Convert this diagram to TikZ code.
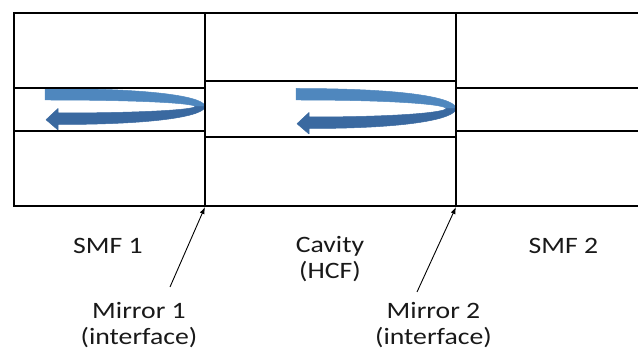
\documentclass[tikz,border=0pt]{standalone}
\usepackage{fontspec}
\setmainfont{Carlito}
\usetikzlibrary{arrows.meta}
\begin{document}
\begin{tikzpicture}[x=1pt,y=-1pt,
  fibre/.style={line width=1.5pt,black},
  lbl/.style={font=\fontsize{23.5}{26}\selectfont,align=center,inner sep=0pt,xscale=1.18,text=black!90},
  pointer/.style={line width=0.9pt,-{Latex[length=7pt,width=5pt]}},
  beamfill/.style={fill=#1,draw=#1,line width=0.5pt,line join=round},
]
\definecolor{beamlight}{RGB}{79,135,190}
\definecolor{beamdark}{RGB}{58,105,160}
\useasboundingbox (0,0) rectangle (638,352);

% reflected beam: upper light band, lower dark band ending in an arrowhead
% #1 left x, #2 centre y, #3 outer half-height, #4 inner half-height
\newcommand\beamturn[4]{%
  \path[beamfill=beamlight] ({#1},{#2-#3})
     .. controls ({#1+118},{#2-#3}) and ({#1+160},{#2-0.48*#3}) .. ({#1+160},{#2})
     -- ({#1+150},{#2})
     .. controls ({#1+150},{#2-0.42*#4}) and ({#1+105},{#2-#4}) .. ({#1},{#2-#4}) -- cycle;
  \path[beamfill=beamdark] ({#1+160},{#2})
     .. controls ({#1+160},{#2+0.48*#3}) and ({#1+118},{#2+#3}) .. ({#1+13},{#2+#3})
     -- ({#1+13},{#2+#3+5.5}) -- ({#1+1},{#2+(#3+#4)/2+1}) -- ({#1+13},{#2+#4-4.5})
     -- ({#1+13},{#2+#4})
     .. controls ({#1+105},{#2+#4}) and ({#1+150},{#2+0.42*#4}) .. ({#1+150},{#2}) -- cycle;
}

\beamturn{45}{106.5}{18}{6.5}
\beamturn{296}{108.5}{20}{8.5}

% fibre outlines
\draw[fibre] (638,13) -- (14,13) -- (14,206) -- (638,206);
\draw[fibre] (205,13) -- (205,206);
\draw[fibre] (456,13) -- (456,206);
% cores
\draw[fibre] (14,88) -- (205,88);
\draw[fibre] (14,131) -- (205,131);
\draw[fibre] (205,81) -- (456,81);
\draw[fibre] (205,137) -- (456,137);
\draw[fibre] (456,88) -- (638,88);
\draw[fibre] (456,131) -- (638,131);

% labels
\node[lbl] (smf1) at (108,245.5) {SMF 1};
\node[lbl] (cav) at (330,259.5) {Cavity\\(HCF)};
\node[lbl] (smf2) at (563.5,245.5) {SMF 2};
\node[lbl] (mir1) at (139,325.5) {Mirror 1\\(interface)};
\node[lbl] (mir2) at (433.5,325.5) {Mirror 2\\(interface)};

% mirror pointers
\coordinate (m1) at (205,207);
\coordinate (m2) at (456,207);
\coordinate (m1tail) at (170,287);
\coordinate (m2tail) at (417,292);
\draw[pointer] (m1tail) -- (m1);
\draw[pointer] (m2tail) -- (m2);
\end{tikzpicture}
\end{document}
